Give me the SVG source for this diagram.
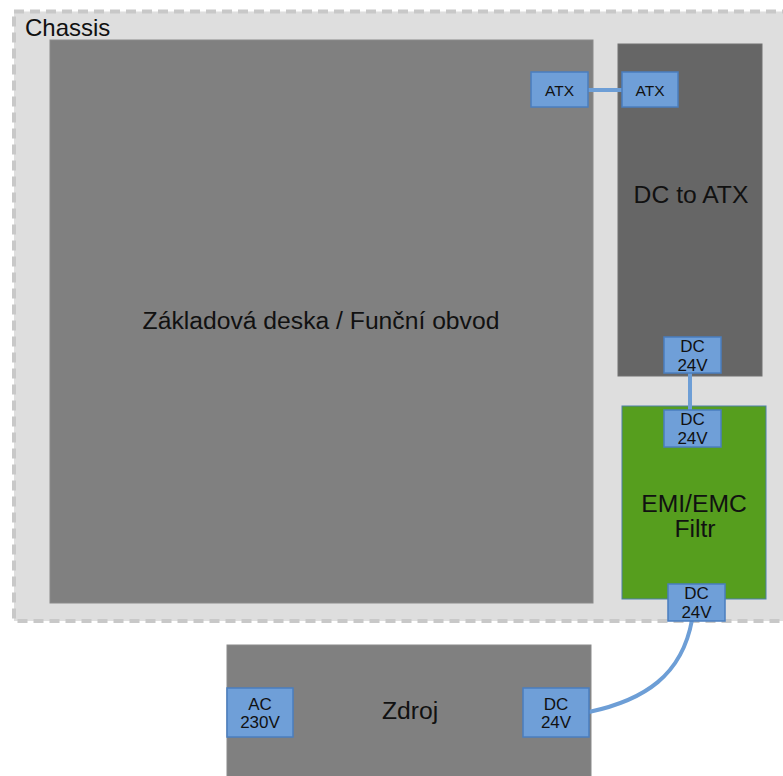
<svg xmlns="http://www.w3.org/2000/svg" width="783" height="776" viewBox="0 0 783 776">
  <style>
    text { font-family: "Liberation Sans", Arial, sans-serif; fill: #111; }
    .big { font-size: 24.7px; text-anchor: middle; }
    .port rect { fill: #6f9fd8; stroke: #4a7ebf; stroke-width: 1.5; }
    .port text { font-size: 17px; text-anchor: middle; }
    .port text.atx { font-size: 15.5px; }
    .board { fill: #808080; stroke: #8a8a8a; stroke-width: 1; }
    .wire { fill: none; stroke: #6d9ed6; stroke-width: 4; }
  </style>

  <rect width="783" height="776" fill="#ffffff"/>

  <!-- Chassis enclosure -->
  <g id="chassis">
    <rect x="14" y="11.5" width="790" height="609.5" fill="#dedede" stroke="#c8c8c8" stroke-width="4" stroke-dasharray="10 6"/>
    <text x="25" y="36" font-size="24">Chassis</text>
  </g>

  <!-- Main board -->
  <g id="motherboard">
    <rect class="board" x="50" y="40" width="543" height="563"/>
    <text class="big" x="321" y="329">Základová deska / Funční obvod</text>
  </g>

  <!-- DC to ATX converter -->
  <g id="dc-to-atx">
    <rect x="618" y="44" width="144" height="332" fill="#666666" stroke="#707070" stroke-width="1"/>
    <text class="big" x="691" y="203">DC to ATX</text>
  </g>

  <!-- EMI/EMC filter -->
  <g id="emi-filter">
    <rect x="622" y="406" width="144" height="193" fill="#569e1e" stroke="#4d7fa8" stroke-width="1"/>
    <text class="big" x="694" y="511.5">EMI/EMC</text>
    <text class="big" x="695" y="536.5">Filtr</text>
  </g>

  <!-- Power supply -->
  <g id="zdroj">
    <rect class="board" x="227" y="645" width="364" height="140"/>
    <text class="big" x="410" y="719">Zdroj</text>
  </g>

  <!-- Connectors -->
  <g id="connectors">
    <line class="wire" x1="587" y1="90" x2="623" y2="90"/>
    <line class="wire" x1="690" y1="373" x2="690" y2="411"/>
    <path class="wire" d="M 692 620 C 682 675, 645 700, 589 712"/>
  </g>

  <!-- Ports -->
  <g id="port-mb-atx" class="port">
    <rect x="531" y="72" width="57" height="35"/>
    <text class="atx" x="559.5" y="95.5">ATX</text>
  </g>
  <g id="port-conv-atx" class="port">
    <rect x="622" y="72" width="56" height="35"/>
    <text class="atx" x="650" y="95.5">ATX</text>
  </g>
  <g id="port-conv-dc" class="port">
    <rect x="664" y="337" width="57" height="36"/>
    <text x="692.5" y="351.5">DC</text>
    <text x="692.5" y="370.5">24V</text>
  </g>
  <g id="port-filter-in" class="port">
    <rect x="664" y="410" width="57" height="37"/>
    <text x="692.5" y="425">DC</text>
    <text x="692.5" y="444">24V</text>
  </g>
  <g id="port-filter-out" class="port">
    <rect x="668" y="584" width="57" height="37"/>
    <text x="696.5" y="599">DC</text>
    <text x="696.5" y="617.5">24V</text>
  </g>
  <g id="port-ac-in" class="port">
    <rect x="227" y="688" width="66" height="49"/>
    <text x="260" y="710">AC</text>
    <text x="260" y="728">230V</text>
  </g>
  <g id="port-dc-out" class="port">
    <rect x="523" y="688" width="66" height="49"/>
    <text x="556" y="710">DC</text>
    <text x="556" y="728">24V</text>
  </g>
</svg>
